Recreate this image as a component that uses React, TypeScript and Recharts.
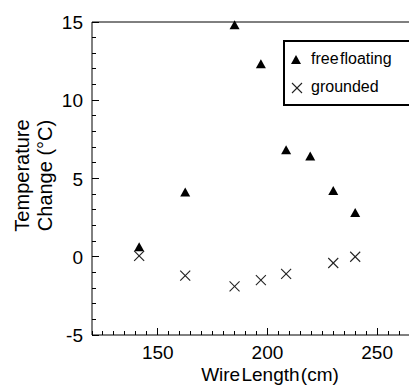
import { ScatterChart, Scatter, XAxis, YAxis, Legend, Label } from "recharts";

const wireLength = [141.5, 162.5, 185, 197, 208.5, 219.5, 230, 240];
const freeFloating = [0.6, 4.1, 14.8, 12.3, 6.8, 6.4, 4.2, 2.8];
const groundedLength = [141.5, 162.5, 185, 197, 208.5, 230, 240];
const grounded = [0.05, -1.2, -1.9, -1.5, -1.1, -0.4, 0];

const xLabels = [150, 200, 250];
const yLabels = [-5, 0, 5, 10, 15];

const xTicks: number[] = [];
for (let v = 120; v <= 270; v += 5) xTicks.push(v);
const yTicks: number[] = [];
for (let v = -5; v <= 15; v += 1) yTicks.push(v);

const floatingData = wireLength.map((x, i) => ({ x, y: freeFloating[i] }));
const groundedData = groundedLength.map((x, i) => ({ x, y: grounded[i] }));

const FONT = "'Liberation Sans', Arial, sans-serif";

// snap 1px lines to the pixel grid
const px = (v: number) => Math.round(v - 0.5) + 0.5;

const Triangle = (p: any) => (
  <path d={`M${p.cx},${p.cy - 5} L${p.cx + 5},${p.cy + 4} L${p.cx - 5},${p.cy + 4} Z`} fill="#000" />
);

const Cross = (p: any) => (
  <g stroke="#222" strokeWidth={1.1}>
    <line x1={p.cx - 5} y1={p.cy - 5} x2={p.cx + 5} y2={p.cy + 5} />
    <line x1={p.cx - 5} y1={p.cy + 5} x2={p.cx + 5} y2={p.cy - 5} />
  </g>
);

const BottomTick = ({ x, y, payload }: any) => {
  const major = payload.value % 50 === 0;
  return (
    <g>
      <line x1={px(x)} y1={y} x2={px(x)} y2={y - (major ? 7 : 4)} stroke="#000" strokeWidth={1} />
      {xLabels.includes(payload.value) && (
        <text x={x} y={y + 24} textAnchor="middle" fontSize={19} fontFamily={FONT} fill="#000">
          {payload.value}
        </text>
      )}
    </g>
  );
};

const TopTick = ({ x, y, payload }: any) => {
  const major = payload.value % 50 === 0;
  return <line x1={px(x)} y1={y} x2={px(x)} y2={y + (major ? 7 : 4)} stroke="#000" strokeWidth={1} />;
};

const LeftTick = ({ x, y, payload }: any) => {
  const major = payload.value % 5 === 0;
  return (
    <g>
      <line x1={x} y1={px(y)} x2={x + (major ? 7 : 4)} y2={px(y)} stroke="#000" strokeWidth={1} />
      {yLabels.includes(payload.value) && (
        <text x={x - 9} y={y + 7} textAnchor="end" fontSize={19} fontFamily={FONT} fill="#000">
          {payload.value}
        </text>
      )}
    </g>
  );
};

const renderLegend = () => (
  <div
    style={{
      position: "relative",
      width: 150,
      height: 62,
      border: "2px solid #000",
      background: "#fff",
      fontFamily: FONT,
      fontSize: 16,
      color: "#000",
    }}
  >
    <svg width={14} height={14} style={{ position: "absolute", left: 4, top: 11 }}>
      <path d="M7,2 L12,11 L2,11 Z" fill="#000" />
    </svg>
    <span style={{ position: "absolute", left: 26, top: 8, wordSpacing: -3 }}>free floating</span>
    <svg width={14} height={14} style={{ position: "absolute", left: 5, top: 39 }}>
      <g stroke="#222" strokeWidth={1.1}>
        <line x1={2} y1={2} x2={12} y2={12} />
        <line x1={2} y1={12} x2={12} y2={2} />
      </g>
    </svg>
    <span style={{ position: "absolute", left: 26, top: 36 }}>grounded</span>
  </div>
);

export default function App() {
  return (
    <div style={{ position: "fixed", left: 0, top: 0, width: 409, height: 390, overflow: "hidden", background: "#fff" }}>
      <ScatterChart width={422} height={390} margin={{ top: 21, right: 1, bottom: 54, left: 91 }}>
        <XAxis
          type="number"
          dataKey="x"
          domain={[120, 270]}
          ticks={xTicks}
          interval={0}
          height={1}
          tickSize={0}
          tickMargin={0}
          tickLine={false}
          tick={<BottomTick />}
          axisLine={{ stroke: "#000" }}
        >
          <Label
            content={({ viewBox }: any) => (
              <text x={viewBox.x + 178} y={viewBox.y + 46} textAnchor="middle" fontSize={19} fontFamily={FONT} fill="#000" wordSpacing={-4}>
                Wire Length (cm)
              </text>
            )}
          />
        </XAxis>
        <XAxis
          xAxisId="top"
          orientation="top"
          type="number"
          domain={[120, 270]}
          ticks={xTicks}
          interval={0}
          height={1}
          tickSize={0}
          tickMargin={0}
          tickLine={false}
          tick={<TopTick />}
          axisLine={{ stroke: "#000" }}
        />
        <YAxis
          type="number"
          dataKey="y"
          domain={[-5, 15]}
          ticks={yTicks}
          interval={0}
          width={1}
          tickSize={0}
          tickMargin={0}
          tickLine={false}
          tick={<LeftTick />}
          axisLine={{ stroke: "#000" }}
        >
          <Label
            content={({ viewBox }: any) => {
              const cy = viewBox.y + viewBox.height / 2 - 3;
              return (
                <g fontSize={20} fontFamily={FONT} fill="#000">
                  <text transform={`translate(${viewBox.x - 62},${cy}) rotate(-90)`} textAnchor="middle">
                    Temperature
                  </text>
                  <text transform={`translate(${viewBox.x - 39},${cy}) rotate(-90)`} textAnchor="middle">
                    Change (°C)
                  </text>
                </g>
              );
            }}
          />
        </YAxis>
        <Legend
          layout="horizontal"
          verticalAlign="middle"
          align="center"
          content={renderLegend}
          wrapperStyle={{ position: "absolute", left: 283, top: 40, width: 154 }}
        />
        <Scatter name="free floating" data={floatingData} shape={Triangle} isAnimationActive={false} />
        <Scatter name="grounded" data={groundedData} shape={Cross} isAnimationActive={false} />
      </ScatterChart>
    </div>
  );
}
